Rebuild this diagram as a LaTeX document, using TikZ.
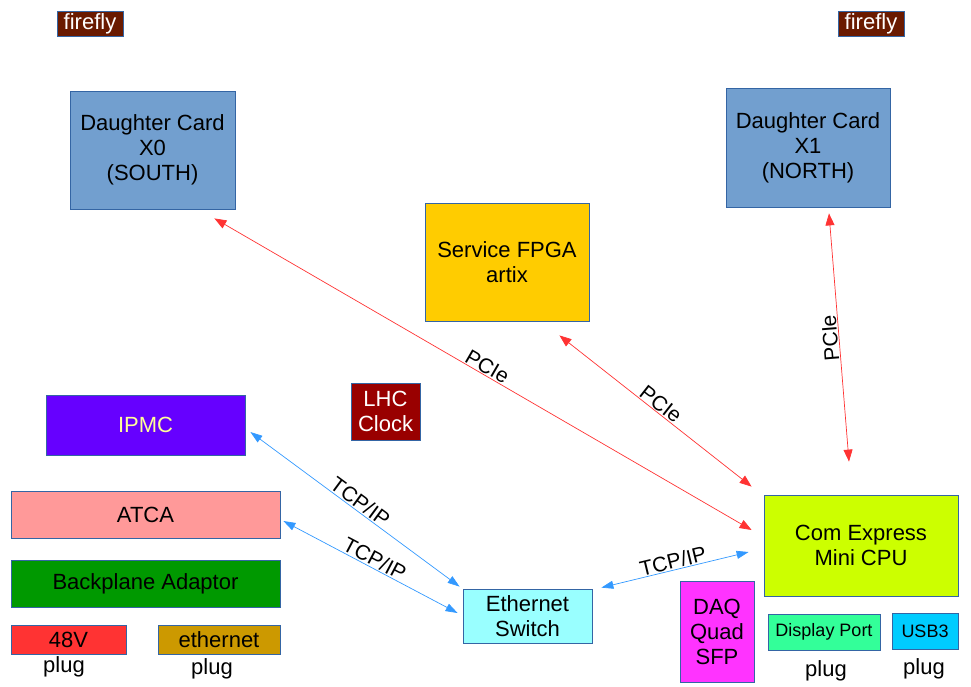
\documentclass[tikz,border=0pt]{standalone}
\usepackage{fontspec}
\setmainfont{Liberation Sans}
\usetikzlibrary{arrows.meta,calc}
\definecolor{bord}{HTML}{3465A4}
\definecolor{ffly}{HTML}{6A1A00}
\definecolor{dcard}{HTML}{729FCF}
\definecolor{fpgac}{HTML}{FFCC00}
\definecolor{lhcc}{HTML}{990000}
\definecolor{ipmcc}{HTML}{6600FF}
\definecolor{ipmct}{HTML}{FFFF99}
\definecolor{atcac}{HTML}{FF9999}
\definecolor{bpc}{HTML}{009900}
\definecolor{vc}{HTML}{FF3333}
\definecolor{ethc}{HTML}{CC9900}
\definecolor{swc}{HTML}{99FFFF}
\definecolor{cpuc}{HTML}{CCFF00}
\definecolor{daqc}{HTML}{FF33FF}
\definecolor{dpc}{HTML}{33FF99}
\definecolor{usbc}{HTML}{00CCFF}
\definecolor{redl}{HTML}{FF3333}
\definecolor{bluel}{HTML}{3399FF}
\tikzset{
  box/.style={draw=bord, line width=0.8pt, inner sep=0pt, align=center,
    font=\fontsize{22}{25}\selectfont},
  smallbox/.style={box, font=\fontsize{18}{21}\selectfont},
  plugtxt/.style={inner sep=0pt, font=\fontsize{22}{25}\selectfont},
  redarr/.style={draw=redl, line width=0.7pt, {Triangle[length=12pt,width=9pt]}-{Triangle[length=12pt,width=9pt]}},
  bluearr/.style={draw=bluel, line width=0.7pt, {Triangle[length=12pt,width=8pt]}-{Triangle[length=12pt,width=8pt]}},
  lbl/.style={font=\fontsize{21}{24}\selectfont, inner sep=1pt}
}
\begin{document}
\begin{tikzpicture}[x=1pt,y=-1pt]
\useasboundingbox (0,0) rectangle (971,686);
% nodes
\node[box, fill=ffly, text=white, minimum width=66, minimum height=25] (ff1) at (90,23.5) {firefly};
\node[box, fill=ffly, text=white, minimum width=66, minimum height=25] (ff2) at (871,23.5) {firefly};
\node[box, fill=dcard, minimum width=165, minimum height=118] (x0) at (152.5,150) {Daughter Card\\X0\\(SOUTH)};
\node[box, fill=dcard, minimum width=164, minimum height=119] (x1) at (808,147.5) {Daughter Card\\X1\\(NORTH)};
\node[box, fill=fpgac, minimum width=164, minimum height=118] (fpga) at (507,262) {Service FPGA\\artix};
\node[box, fill=lhcc, text=white, minimum width=69, minimum height=57] (lhc) at (385.5,411.5) {LHC\\Clock};
\node[box, fill=ipmcc, text=ipmct, minimum width=199, minimum height=60] (ipmc) at (145.5,425) {IPMC};
\node[box, fill=atcac, minimum width=269, minimum height=47] (atca) at (145.5,514.5) {ATCA};
\node[box, fill=bpc, minimum width=269, minimum height=47] (bp) at (145.5,583.5) {Backplane Adaptor};
\node[box, fill=vc, minimum width=115, minimum height=29] (v48) at (68.5,639.5) {48V};
\node[box, fill=ethc, minimum width=122, minimum height=29] (eth) at (219,639.5) {ethernet};
\node[box, fill=swc, minimum width=129, minimum height=54] (sw) at (527.5,616) {Ethernet\\Switch};
\node[box, fill=cpuc, minimum width=194, minimum height=101] (cpu) at (861,545.5) {Com Express\\Mini CPU};
\node[box, fill=daqc, minimum width=74, minimum height=101] (daq) at (717,631.5) {DAQ\\Quad\\SFP};
\node[smallbox, fill=dpc, minimum width=112, minimum height=36] (dp) at (824,632) {Display Port};
\node[smallbox, fill=usbc, minimum width=66, minimum height=36] (usb) at (925,631) {USB3};
\node[plugtxt] (p1) at (64,667) {plug};
\node[plugtxt] (p2) at (212,669) {plug};
\node[plugtxt] (p3) at (826,671) {plug};
\node[plugtxt] (p4) at (924,669) {plug};
% connectors
\draw[redarr] ($(x0.south east)+(-21,9)$) -- node[lbl, sloped, above, pos=0.5] {PCIe} ($(cpu.west)+(-12,-15.5)$);
\draw[redarr] ($(fpga.south east)+(-30,14)$) -- node[lbl, sloped, above, pos=0.5] {PCIe} ($(cpu.north west)+(-12,-8)$);
\draw[redarr] ($(x1.south)+(21,6)$) -- node[lbl, rotate=94.6, anchor=south, pos=0.5] {PCIe} ($(cpu.north)+(-12,-33)$);
\draw[bluearr] ($(ipmc.east)+(5,7)$) -- node[lbl, sloped, above, pos=0.5] {TCP/IP} ($(sw.north west)+(-3,-2)$);
\draw[bluearr] ($(atca.east)+(3,6.5)$) -- node[lbl, sloped, above, pos=0.5] {TCP/IP} ($(sw.west)+(-5,-3)$);
\draw[bluearr] ($(sw.north east)+(9,-1)$) -- node[lbl, sloped, above, pos=0.5] {TCP/IP} ($(cpu.west)+(-15,6.5)$);
\end{tikzpicture}
\end{document}
